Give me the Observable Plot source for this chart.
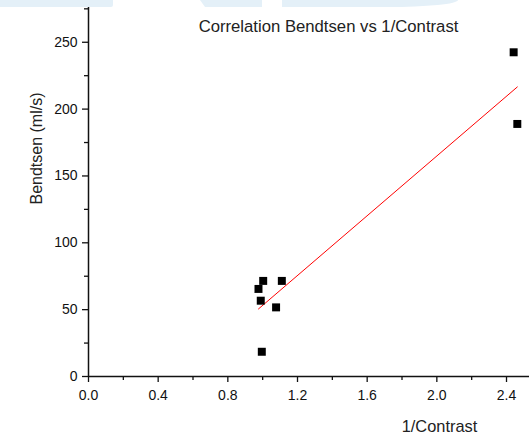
<!DOCTYPE html>
<html><head><meta charset="utf-8">
<script src="https://cdn.jsdelivr.net/npm/d3@7"></script>
<script src="https://cdn.jsdelivr.net/npm/@observablehq/plot@0.6"></script>
<style>
html,body{margin:0;padding:0;background:#fff;}
#wrap{position:relative;width:529px;height:435px;overflow:hidden;}
#wrap svg{display:block;}
.band{position:absolute;top:0;height:7px;background:#e4f0f8;}
</style></head><body>
<div id="wrap">
</div>
<script>
// Data
const contrastInv = [0.976, 1.003, 0.989, 1.110, 1.077, 0.995, 2.441, 2.462];
const bendtsen    = [65.5, 71.5, 56.7, 71.5, 51.7, 18.5, 242.5, 188.9];
const xMajor = [0, 0.4, 0.8, 1.2, 1.6, 2.0, 2.4];
const xMinor = [0.2, 0.6, 1.0, 1.4, 1.8, 2.2];
const yMajor = [0, 50, 100, 150, 200, 250];
const yMinor = [25, 75, 125, 175, 225, 275];
const titleText = "Correlation Bendtsen vs 1/Contrast";
const xLabel = "1/Contrast";
const yLabel = "Bendtsen (ml/s)";

const data = contrastInv.map((x, i) => ({x, y: bendtsen[i]}));
const font = "'Liberation Sans', Arial, Helvetica, sans-serif";

const chart = Plot.plot({
  width: 529,
  height: 435,
  marginLeft: 88,
  marginRight: 0,
  marginTop: 7,
  marginBottom: 59,
  style: {fontFamily: font, fontSize: "14px", color: "#111", background: "#fff", overflow: "visible"},
  x: {domain: [0, 2.532]},
  y: {domain: [0, 276]},
  marks: [
    Plot.axisX(xMajor, {tickSize: 6, tickPadding: 8, tickFormat: d3.format(".1f"), fontSize: 14, strokeWidth: 1.3, stroke: "#111", label: null}),
    Plot.axisX(xMinor, {tickSize: 4, tickFormat: () => "", strokeWidth: 1.3, stroke: "#111", label: null}),
    Plot.axisY(yMajor, {tickSize: 6, tickPadding: 5, fontSize: 14, strokeWidth: 1.3, stroke: "#111", label: null}),
    Plot.axisY(yMinor, {tickSize: 4, tickFormat: () => "", strokeWidth: 1.3, stroke: "#111", label: null}),
    Plot.ruleY([0], {stroke: "#111", strokeWidth: 1.5}),
    Plot.ruleX([0], {stroke: "#111", strokeWidth: 1.5}),
    Plot.linearRegressionY(data, {x: "x", y: "y", stroke: "#ff0000", strokeWidth: 1, ci: 0}),
    Plot.dot(data, {x: "x", y: "y", symbol: "square", r: 4.5, fill: "#000"}),
    Plot.text([titleText], {frameAnchor: "top", textAnchor: "middle", dx: 19.5, dy: 24.5, lineAnchor: "bottom", fontSize: 16.7, fill: "#222"}),
    Plot.text([xLabel], {frameAnchor: "bottom", textAnchor: "middle", dx: 130.5, dy: 55.5, lineAnchor: "bottom", fontSize: 16.4, fill: "#222"}),
    Plot.text([yLabel], {frameAnchor: "top-left", textAnchor: "middle", dx: -47, dy: 141, rotate: -90, lineAnchor: "bottom", fontSize: 16, fill: "#222"})
  ]
});

const wrap = document.getElementById("wrap");
wrap.appendChild(chart);
// faint watermark band at the top of the reference
const bands = [
  {left: 0, width: 113, style: "border-bottom-right-radius:2px;"},
  {left: 200, width: 62, style: "clip-path:polygon(0 0,100% 0,100% 100%,5px 100%);"},
  {left: 282, width: 176, style: "border-bottom-right-radius:70px 7px;"}
];
for (const b of bands) {
  const d = document.createElement("div");
  d.className = "band";
  d.style.cssText = `left:${b.left}px;width:${b.width}px;${b.style}`;
  wrap.appendChild(d);
}
</script>
</body></html>
